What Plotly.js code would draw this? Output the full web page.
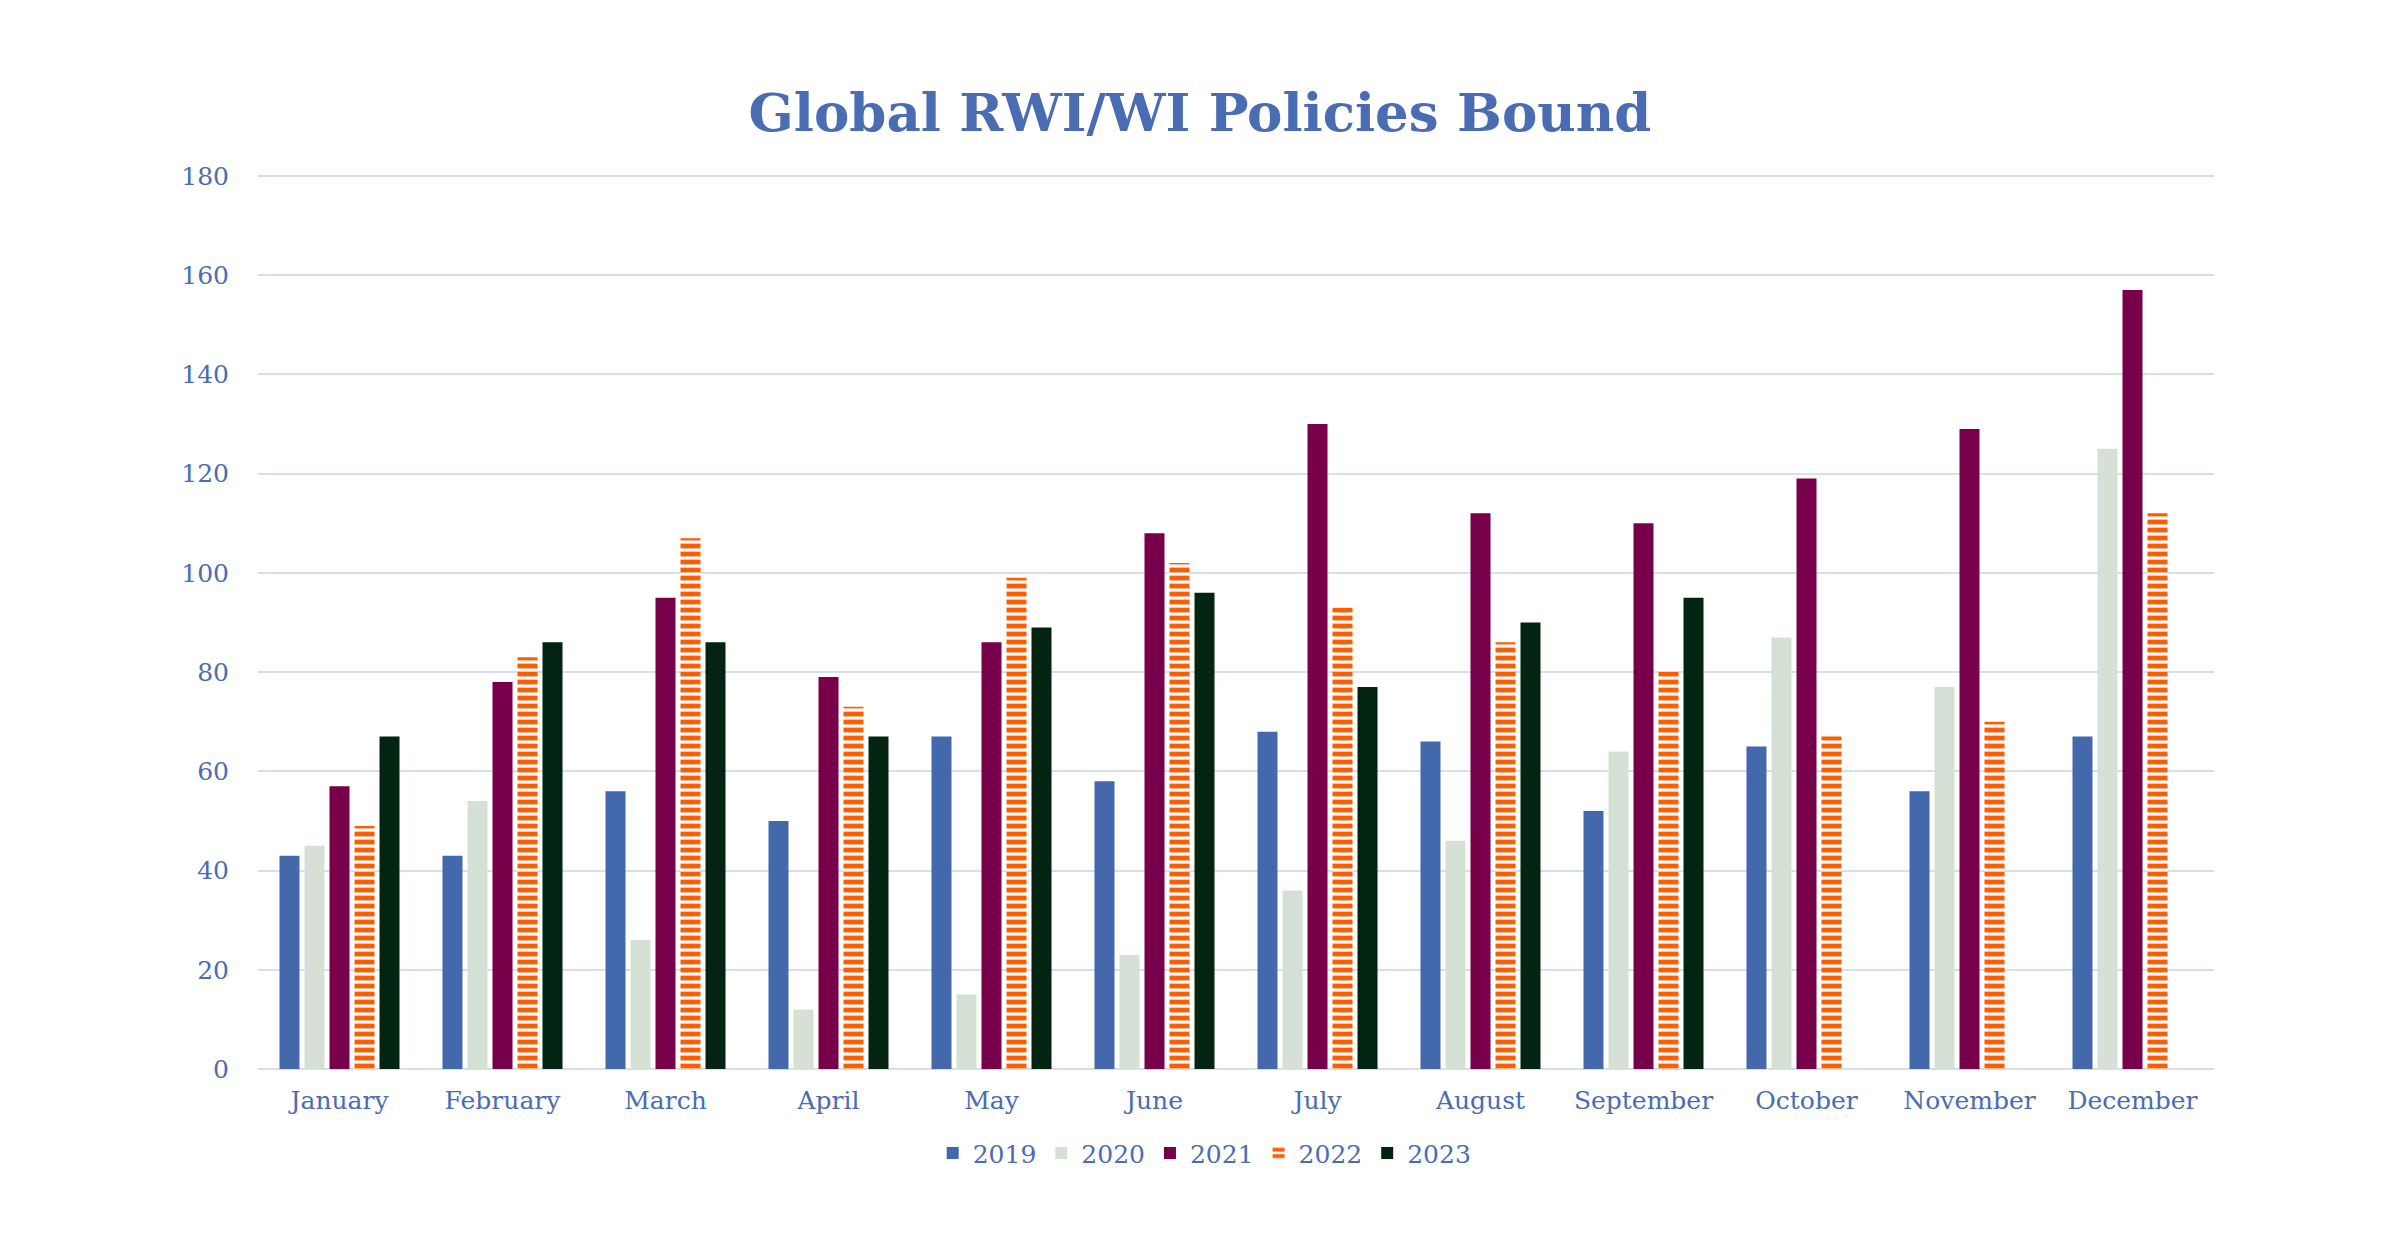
<!DOCTYPE html>
<html>
<head>
<meta charset="utf-8">
<script src="https://cdn.plot.ly/plotly-3.0.1.min.js"></script>
<style>html,body{margin:0;padding:0;background:#fff;}#chart{width:2400px;height:1254px;}</style>
</head>
<body>
<div id="chart"></div>
<script>
const months = ["January","February","March","April","May","June","July","August","September","October","November","December"];
const years = ["2019","2020","2021","2022","2023"];
const v2019 = [43,43,56,50,67,58,68,66,52,65,56,67];
const v2020 = [45,54,26,12,15,23,36,46,64,87,77,125];
const v2021 = [57,78,95,79,86,108,130,112,110,119,129,157];
const v2022 = [49,83,107,73,99,102,93,86,80,67,70,112];
const v2023 = [67,86,86,67,89,96,77,90,95,null,null,null];
const yTicks = [0,20,40,60,80,100,120,140,160,180];

const series = [v2019, v2020, v2021, v2022, v2023];
const colors = ["#4468AC", "#D6E1D6", "#78004A", "#FF5B00", "#022410"];
const textColor = "#4A6CB3";
const fontFam = "DejaVu Serif, Liberation Serif, serif";

const traces = series.map((vals, i) => {
  const t = {
    type: "bar",
    name: years[i],
    x: months,
    y: vals,
    marker: { color: colors[i], line: { width: 0 } },
    hoverinfo: "x+y+name"
  };
  if (i === 3) {
    t.marker = {
      color: "#FFFFFF",
      line: { width: 0 },
      pattern: { shape: "-", fgcolor: colors[i], bgcolor: "#FFFFFF", size: 8, solidity: 0.6, fillmode: "replace" }
    };
  }
  return t;
});

const layout = {
  width: 2400,
  height: 1254,
  paper_bgcolor: "#FFFFFF",
  plot_bgcolor: "#FFFFFF",
  barmode: "group",
  bargap: 0.233,
  bargroupgap: 0.2,
  margin: { l: 258, r: 186, t: 174, b: 185 },
  title: {
    text: "<b>Global RWI/WI Policies Bound</b>",
    font: { family: fontFam, size: 53, color: textColor },
    x: 0.5, xanchor: "center",
    y: 0.91, yanchor: "middle", yref: "container"
  },
  xaxis: {
    type: "category",
    tickfont: { family: fontFam, size: 25, color: textColor },
    showgrid: false,
    showline: false,
    zeroline: false,
    ticks: "",
    ticklabelstandoff: 14
  },
  yaxis: {
    range: [0, 180.4],
    tickvals: yTicks,
    ticktext: yTicks.map(String),
    tickfont: { family: fontFam, size: 25, color: textColor },
    showgrid: true,
    gridcolor: "#D9DDEC",
    gridwidth: 2,
    zeroline: true,
    zerolinecolor: "#D9DDEC",
    zerolinewidth: 2,
    showline: false,
    ticks: "",
    ticklabelstandoff: 28
  },
  showlegend: true,
  legend: {
    orientation: "h",
    x: 0.484, xanchor: "center",
    y: -0.094, yanchor: "middle",
    font: { family: fontFam, size: 25, color: textColor },
    itemwidth: 30,
    traceorder: "normal"
  }
};

Plotly.newPlot("chart", traces, layout, { displayModeBar: false, staticPlot: true });
</script>
</body>
</html>
